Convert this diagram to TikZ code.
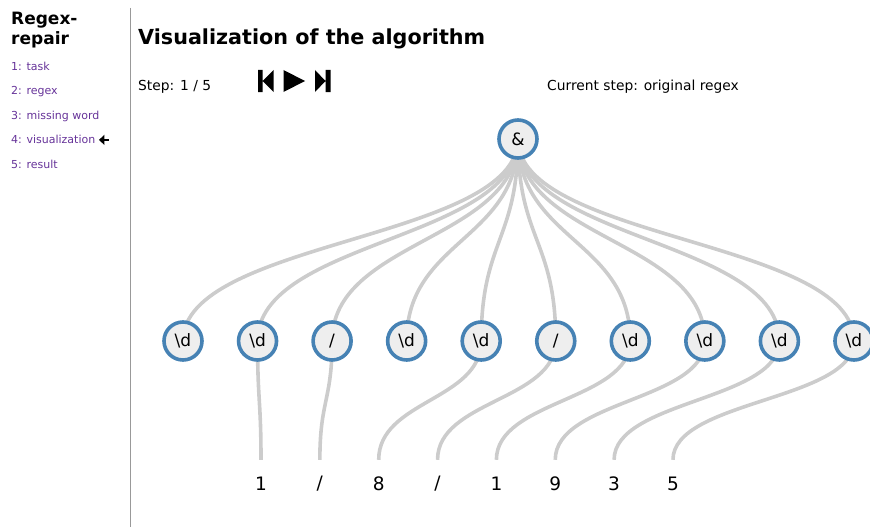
\documentclass[tikz,border=0pt]{standalone}
\usepackage{fontspec}
\setmainfont{DejaVu Sans}
\usetikzlibrary{arrows.meta,backgrounds}
\definecolor{nodeblue}{RGB}{70,130,180}
\definecolor{nodefill}{RGB}{238,238,238}
\definecolor{linkgrey}{RGB}{204,204,204}
\definecolor{navpurple}{RGB}{102,51,153}
\tikzset{basic/.style={circle,draw=nodeblue,line width=3.6pt,fill=nodefill,
                       minimum size=38pt,inner sep=0pt,
                       font=\fontsize{17}{17}\selectfont}}
\tikzset{leaf/.style={inner sep=0pt,minimum height=48pt,
                      font=\fontsize{18.5}{18.5}\selectfont}}
\tikzset{link/.style={draw=linkgrey,line width=3.6pt}}
\tikzset{navitem/.style={anchor=base west,inner sep=0pt,text=navpurple,
                         font=\fontsize{11}{11}\selectfont}}
\tikzset{infotext/.style={anchor=base west,inner sep=0pt,
                          font=\fontsize{13.8}{13.8}\selectfont}}
\tikzset{heading/.style={anchor=base west,inner sep=0pt,
                         font=\fontsize{17}{17}\bfseries}}
\tikzset{button/.style={fill=black}}
\newcommand{\dig}{\textbackslash d}

\begin{document}
\begin{tikzpicture}[x=1pt,y=-1pt]
    \useasboundingbox (0,0) rectangle (870,527);
    % sidebar
    \node[heading] (head1) at (11,25) {Regex-};
    \node[heading] (head2) at (11,45) {repair};
    \foreach \h [count=\hi] in {1: task,2: regex,3: missing word,4: visualization,5: result}{%
          \node[navitem] (nav\hi) at (11,70.5+\hi*24.4-24.4) {\h};
        }
    \draw[line width=2.6pt,-{Triangle[width=10pt,length=5.5pt]}]
         ([xshift=13.5pt,yshift=3.8pt]nav4.base east) -- ([xshift=3.5pt,yshift=3.8pt]nav4.base east);
    \draw[gray!80] (130,8) -- (130,527);
    % header
    \node[heading,font=\fontsize{20.7}{20.7}\bfseries] (title) at (138,45) {Visualization of the algorithm};
    \node[infotext] (step) at (138,90) {Step: 1 / 5};
    \node[infotext] (current) at (547,90) {Current step: original regex};
    \fill[button] (258,70) rectangle (262.5,92) (273.5,70) -- (273.5,92) -- (262.5,81) -- cycle;
    \fill[button] (283.5,70) -- (283.5,92) -- (305,81) -- cycle;
    \fill[button] (315,70) -- (315,92) -- (325.5,81) -- cycle (325.5,70) rectangle (330.5,92);
    % tree
    \node[basic] (root) at (518,139) {\&};
    \foreach \h [count=\hi] in {\dig,\dig,/,\dig,\dig,/,\dig,\dig,\dig,\dig}{%
          \node[basic] (c\hi) at (183+\hi*74.55-74.55,341) {\h};
        }
    \foreach \h [count=\hi] in {1,/,8,/,1,9,3,5}{%
          \node[leaf] (l\hi) at (261+\hi*58.85-58.85,484) {\h};
        }
    \begin{scope}[on background layer]
      \foreach \hi in {1,...,10}{%
            \draw[link] (root.center) .. controls +(0,101) and +(0,-101) .. (c\hi.center);
          }
      \foreach \c/\l in {2/1,3/2,5/3,6/4,7/5,8/6,9/7,10/8}{%
            \draw[link] (c\c.center) .. controls +(0,59.5) and +(0,-59.5) .. (l\l.north);
          }
    \end{scope}
\end{tikzpicture}
\end{document}
